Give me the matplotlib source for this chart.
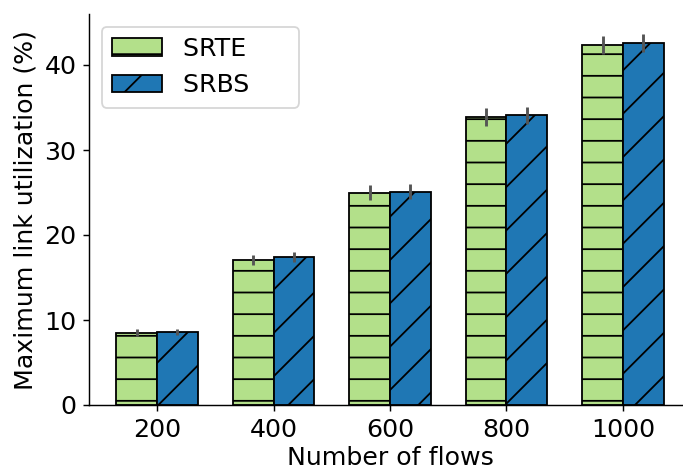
import numpy as np
import matplotlib
matplotlib.use("Agg")
from matplotlib import pyplot as plt

flows = ["200", "400", "600", "800", "1000"]
srte = [8.5, 17.1, 25.0, 33.9, 42.35]
srbs = [8.6, 17.45, 25.1, 34.1, 42.6]
srte_err = [0.4, 0.6, 0.85, 1.1, 1.1]
srbs_err = [0.37, 0.6, 0.85, 1.0, 1.1]

plt.rcParams['font.size'] = 14
plt.rcParams['hatch.linewidth'] = 1.0

fig, ax = plt.subplots(figsize=(683 / 130, 471 / 130), dpi=130)

x = np.arange(len(flows))
w = 0.35
err_kw = dict(ecolor="#555555", elinewidth=1.6, capsize=0)
# trailing spaces widen the legend box like in the original
ax.bar(x - w / 2, srte, w, yerr=srte_err, color="#b3e08a", edgecolor="black",
       hatch="-", label="SRTE     ", error_kw=err_kw)
ax.bar(x + w / 2, srbs, w, yerr=srbs_err, color="#1f77b4", edgecolor="black",
       hatch="/", label="SRBS     ", error_kw=err_kw)

ax.set_xticks(x)
ax.set_xticklabels(flows)
ax.set_xlabel("Number of flows", labelpad=2.5)
ax.set_ylabel("Maximum link utilization (%)")
ax.set_ylim(0, 46.0)
ax.spines['top'].set_visible(False)
ax.spines['right'].set_visible(False)
ax.legend(loc="upper left")

# the original picture cuts off the right end of the axes
ax.set_position([89 / 683, 66 / 471, 602 / 683, 391 / 471])
fig.savefig("out.png")
